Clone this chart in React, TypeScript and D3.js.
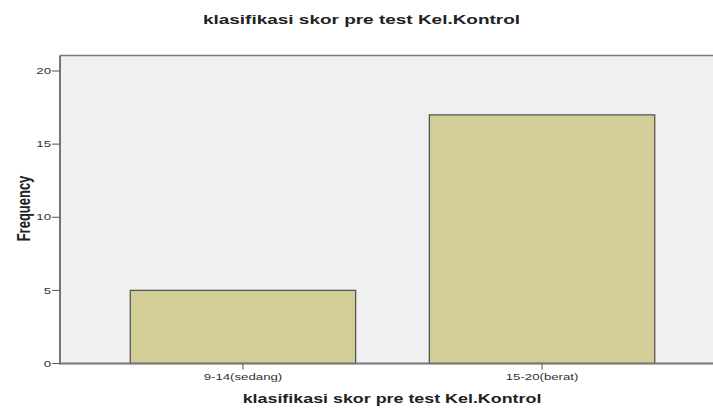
import React from "react";
import * as d3 from "d3";

const categories = ["9-14(sedang)", "15-20(berat)"];
const frequencies = [5, 17];
const yTicks = [0, 5, 10, 15, 20];
const title = "klasifikasi skor pre test Kel.Kontrol";
const xTitle = "klasifikasi skor pre test Kel.Kontrol";
const yTitle = "Frequency";

const W = 713;
const H = 412;
const left = 60;
const right = 725;
const top = 55.5;
const bottom = 363.5;
const SX = 1.47;

export default function App() {
  const x = d3
    .scaleBand<string>()
    .domain(categories)
    .range([left, right])
    .paddingInner(0.2465)
    .paddingOuter(0.235);
  const y = d3.scaleLinear().domain([0, 21.06]).range([bottom, top]);
  const font = "'Liberation Sans', Arial, sans-serif";
  return (
    <svg
      width={W}
      height={H}
      style={{ position: "absolute", left: 0, top: 0, background: "#fff" }}
      fontFamily={font}
    >
      <text
        transform={`translate(361.5,24) scale(1.46,1)`}
        textAnchor="middle"
        fontSize={13}
        fontWeight="bold"
        fill="#222"
      >
        {title}
      </text>
      <rect x={left} y={top} width={right - left} height={bottom - top} fill="#f0f0f0" />
      <line x1={left} x2={right} y1={top} y2={top} stroke="#777" strokeWidth={1.5} />
      {categories.map((c, i) => (
        <rect
          key={c}
          x={x(c)}
          y={y(frequencies[i])}
          width={x.bandwidth()}
          height={y(0) - y(frequencies[i])}
          fill="#d3ce97"
          stroke="#555"
          strokeWidth={1.3}
        />
      ))}
      <line x1={left} x2={right} y1={bottom} y2={bottom} stroke="#777" strokeWidth={2} />
      <line x1={left} x2={left} y1={top} y2={bottom + 1} stroke="#777" strokeWidth={2} />
      {yTicks.map((t) => (
        <g key={t}>
          <line x1={left - 8} x2={left} y1={y(t)} y2={y(t)} stroke="#555" strokeWidth={1} />
          <text
            transform={`translate(${left - 9},${y(t)}) scale(${SX},1)`}
            dy="0.35em"
            textAnchor="end"
            fontSize={9}
            fill="#333"
          >
            {t}
          </text>
        </g>
      ))}
      {categories.map((c) => {
        const cx = (x(c) as number) + x.bandwidth() / 2;
        return (
          <g key={c}>
            <line x1={cx} x2={cx} y1={bottom} y2={bottom + 6} stroke="#555" strokeWidth={1} />
            <text
              transform={`translate(${cx},379.5) scale(${SX},1)`}
              textAnchor="middle"
              fontSize={9}
              fill="#333"
            >
              {c}
            </text>
          </g>
        );
      })}
      <text
        transform={`translate(392,403) scale(1.43,1)`}
        textAnchor="middle"
        fontSize={12.5}
        fontWeight="bold"
        fill="#222"
      >
        {xTitle}
      </text>
      <text
        transform={`translate(30,208.5) scale(1.4,1) rotate(-90)`}
        textAnchor="middle"
        fontSize={13}
        fontWeight="bold"
        fill="#222"
      >
        {yTitle}
      </text>
    </svg>
  );
}
